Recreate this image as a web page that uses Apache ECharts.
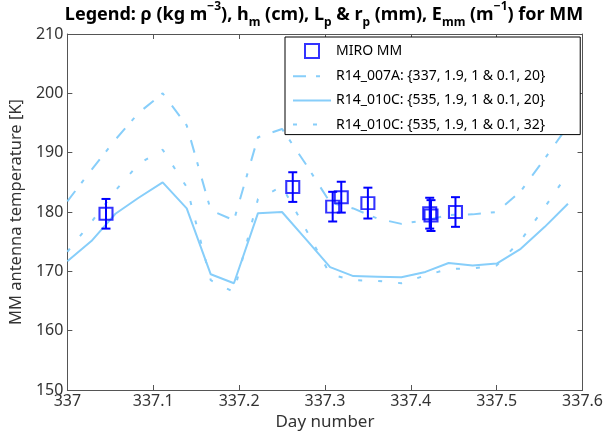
<!DOCTYPE html>
<html><head><meta charset="utf-8">
<script src="https://cdn.jsdelivr.net/npm/echarts@6/dist/echarts.min.js"></script>
<style>html,body{margin:0;padding:0;background:#fff}#c{width:606px;height:437px}</style>
</head><body><div id="c"></div>
<script>
// ---- data ----
const modelDays = [337.000, 337.028, 337.056, 337.083, 337.111, 337.139, 337.167, 337.194, 337.222, 337.250, 337.278,
                   337.306, 337.333, 337.361, 337.389, 337.417, 337.444, 337.472, 337.500, 337.528, 337.556, 337.583];
const r007a_20 = [181.8, 187.1, 192.2, 196.7, 200.0, 194.6, 180.3, 178.6, 192.6, 194.0, 188.0,
                  181.6, 180.6, 178.9, 178.0, 178.6, 179.5, 179.6, 180.0, 183.5, 189.0, 194.5];
const r010c_20 = [171.7, 175.1, 179.7, 182.4, 185.0, 180.6, 169.5, 168.0, 179.8, 180.0, 175.4,
                  170.7, 169.2, 169.1, 169.0, 169.9, 171.4, 171.0, 171.3, 173.8, 177.5, 181.4];
const r010c_32 = [173.3, 178.3, 183.6, 188.1, 190.5, 184.2, 168.5, 166.5, 182.2, 184.3, 177.0,
                  169.5, 168.5, 168.4, 168.0, 169.3, 170.4, 170.5, 171.0, 175.2, 180.8, 186.5];
const miroDays = [337.045, 337.2625, 337.309, 337.319, 337.350, 337.422, 337.4235, 337.452];
const miroVals = [179.7, 184.2, 180.9, 182.5, 181.5, 179.8, 179.4, 180.0];
const miroErr  = [2.5, 2.5, 2.5, 2.6, 2.6, 2.6, 2.6, 2.5];
const seriesNames = ['MIRO MM', 'R14_007A: {337, 1.9, 1 & 0.1, 20}', 'R14_010C: {535, 1.9, 1 & 0.1, 20}', 'R14_010C: {535, 1.9, 1 & 0.1, 32}'];
const xTicks = [337, 337.1, 337.2, 337.3, 337.4, 337.5, 337.6];
const yTicks = [150, 160, 170, 180, 190, 200, 210];

const LB = '#87CEFA', BL = '#0000FF', AX = '#555', TX = '#333';
const FONT = 'Noto Sans';
const zip = (a, b) => a.map((v, i) => [v, b[i]]);

const chart = echarts.init(document.getElementById('c'), null, {renderer: 'canvas'});
const axisCommon = {
  axisLine: {show: true, lineStyle: {color: AX, width: 1}},
  axisTick: {show: true, inside: true, length: 5, lineStyle: {color: AX}},
  splitLine: {show: false}
};
const hideSym = {color: 'rgba(0,0,0,0)', borderWidth: 0, opacity: 0};
chart.setOption({
  animation: false,
  title: {
    text: '{b|Legend: ρ (kg m}{sup|−3}{b|), h}{sub|m}{b| (cm), L}{sub|p}{b| & r}{sub|p}{b| (mm), E}{sub|mm}{b| (m}{sup|−1}{b|) for MM}',
    left: 324, top: 1, textAlign: 'center', padding: 0,
    textStyle: {
      fontFamily: FONT, fontWeight: 'bold', fontSize: 18, color: '#000',
      rich: {
        b: {fontFamily: FONT, fontWeight: 'bold', fontSize: 18, color: '#000', lineHeight: 28, verticalAlign: 'middle'},
        sup: {fontFamily: FONT, fontWeight: 'bold', fontSize: 12, color: '#000', lineHeight: 12, verticalAlign: 'top'},
        sub: {fontFamily: FONT, fontWeight: 'bold', fontSize: 12, color: '#000', lineHeight: 12, verticalAlign: 'bottom'}
      }
    }
  },
  legend: {
    orient: 'vertical', left: 285, top: 37,
    padding: [6, 35, 3, 7], itemGap: 10.2, itemWidth: 38, itemHeight: 14,
    backgroundColor: '#fff', borderColor: '#000', borderWidth: 1,
    textStyle: {fontFamily: FONT, fontSize: 14, color: '#000'},
    data: [
      {name: seriesNames[0], icon: 'path://M0,0 L10,0 L10,10 L0,10 Z',
        itemStyle: {color: 'rgba(0,0,0,0)', borderColor: BL, borderWidth: 2}},
      {name: seriesNames[1], itemStyle: hideSym},
      {name: seriesNames[2], itemStyle: hideSym},
      {name: seriesNames[3], itemStyle: hideSym}
    ]
  },
  grid: {left: 58, right: 19, top: 34, bottom: 47},
  xAxis: [
    Object.assign({type: 'value', min: xTicks[0], max: xTicks[xTicks.length - 1], interval: 0.1, position: 'bottom',
      name: 'Day number', nameLocation: 'middle', nameGap: 21,
      nameTextStyle: {fontFamily: FONT, fontSize: 17, color: TX},
      axisLabel: {show: true, fontFamily: FONT, fontSize: 16, color: TX, margin: 3,
        formatter: v => String(Math.round(v * 10) / 10)}}, axisCommon),
    Object.assign({type: 'value', min: xTicks[0], max: xTicks[xTicks.length - 1], interval: 0.1, position: 'top',
      axisLabel: {show: false}}, axisCommon)
  ],
  yAxis: [
    Object.assign({type: 'value', min: yTicks[0], max: yTicks[yTicks.length - 1], interval: 10, position: 'left',
      name: 'MM antenna temperature [K]', nameLocation: 'middle', nameGap: 33,
      nameTextStyle: {fontFamily: FONT, fontSize: 16.5, color: TX},
      axisLabel: {show: true, fontFamily: FONT, fontSize: 16, color: TX, margin: 4}}, axisCommon),
    Object.assign({type: 'value', min: yTicks[0], max: yTicks[yTicks.length - 1], interval: 10, position: 'right',
      axisLabel: {show: false}}, axisCommon)
  ],
  series: [
    {name: seriesNames[1], type: 'line', data: zip(modelDays, r007a_20), symbol: 'none', z: 2,
      lineStyle: {color: LB, width: 2, type: [13, 10, 4, 13]}, itemStyle: {color: LB}},
    {name: seriesNames[2], type: 'line', data: zip(modelDays, r010c_20), symbol: 'none', z: 2,
      lineStyle: {color: LB, width: 2, type: 'solid'}, itemStyle: {color: LB}},
    {name: seriesNames[3], type: 'line', data: zip(modelDays, r010c_32), symbol: 'none', z: 2,
      lineStyle: {color: LB, width: 2, type: [4, 16]}, itemStyle: {color: LB}},
    {name: 'errbars', type: 'custom', z: 4, silent: true,
      data: miroDays.map((d, i) => [d, miroVals[i], miroErr[i]]),
      renderItem: (params, api) => {
        const x = api.value(0), v = api.value(1), e = api.value(2);
        const top = api.coord([x, v + e]), bot = api.coord([x, v - e]);
        const st = {stroke: BL, lineWidth: 2, fill: 'none'};
        return {type: 'group', children: [
          {type: 'line', shape: {x1: top[0], y1: top[1], x2: bot[0], y2: bot[1]}, style: st},
          {type: 'line', shape: {x1: top[0] - 4.5, y1: top[1], x2: top[0] + 4.5, y2: top[1]}, style: st},
          {type: 'line', shape: {x1: bot[0] - 4.5, y1: bot[1], x2: bot[0] + 4.5, y2: bot[1]}, style: st}
        ]};
      }},
    {name: seriesNames[0], type: 'scatter', data: zip(miroDays, miroVals), z: 5,
      symbol: 'rect', symbolSize: [13, 12],
      itemStyle: {color: 'rgba(255,255,255,0)', borderColor: BL, borderWidth: 2}}
  ]
});
</script></body></html>
